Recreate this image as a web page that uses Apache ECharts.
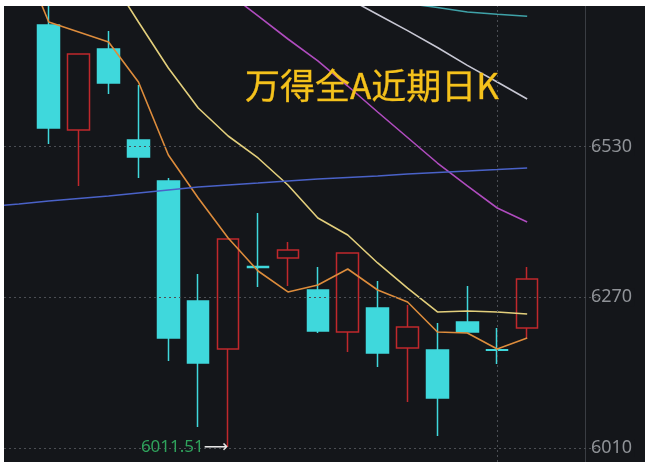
<!DOCTYPE html>
<html><head><meta charset="utf-8">
<script src="https://cdn.jsdelivr.net/npm/echarts@6/dist/echarts.min.js"></script>
<style>
html,body{margin:0;padding:0;background:#fff;width:650px;height:465px;overflow:hidden}
#chart{position:absolute;left:4px;top:6px;width:641px;height:456px;background:#14161a}
</style></head><body><div id="chart"></div>
<script>
const titleText = '万得全A近期日K';
const categories = ['D1','D2','D3','D4','D5','D6','D7','D8','D9','D10','D11','D12','D13','D14','D15','D16','D17','D18','D19','D20','D21'];
const opens  = [null,null,6739.6,6558.5,6698.2,6541.2,6470.5,6263.5,6180.7,6323.0,6337.7,6282.5,6210.1,6251.5,6182.4,6178.9,6227.3,6179.5,6217.1,null,null];
const closes = [null,null,6561.9,6689.5,6639.5,6511.9,6199.7,6156.6,6370.5,6321.5,6351.5,6211.8,6346.3,6173.9,6218.6,6096.1,6210.1,6178.5,6301.5,null,null];
const lows   = [null,null,6534.3,6461.9,6620.5,6475.7,6160.1,6046.2,6011.51,6287.7,6289.4,6208.3,6175.6,6149.7,6089.3,6030.6,6209.0,6154.7,6198.5,null,null];
const highs  = [null,null,6790.0,6689.5,6729.2,6636.1,6475.7,6310.1,6370.5,6415.3,6365.3,6322.2,6346.3,6298.0,6256.6,6225.5,6289.4,6217.1,6322.2,null,null];
const ma5    = [6937.9,6868.9,6744.7,6727.5,6710.2,6641.2,6515.3,6441.2,6372.2,6315.3,6279.1,6291.1,6318.7,6282.5,6261.8,6210.1,6208.3,6180.7,6199.7,null,null];
const ma10   = [7110.4,7041.4,6972.4,6903.4,6825.8,6744.7,6665.4,6596.4,6548.1,6510.2,6463.6,6406.7,6377.4,6329.1,6285.9,6244.6,6246.3,6244.6,6241.1,null,null];
const ma20   = [7106.9,7069.0,7029.3,6989.6,6951.7,6912.0,6872.4,6834.4,6794.8,6755.1,6715.4,6677.5,6634.3,6589.5,6545.5,6501.5,6461.9,6423.9,6399.8,null,null];
const ma30   = [7122,7094,7066,7038,7010,6982,6954,6926,6898,6870,6842,6814,6785.6,6757.7,6729.9,6700.7,6669.9,6641.2,6611.9,null,null];
const ma60   = [6871,6864,6857,6850,6843,6836,6829,6822,6815,6808.5,6801.6,6794.7,6787.8,6781.8,6776.6,6769.7,6762.0,6758.0,6754.7,null,null];
const ma250  = [6426.5,6430.8,6436.0,6440.3,6444.6,6449.8,6455.0,6460.1,6463.6,6467.0,6470.5,6473.9,6476.5,6479.1,6482.5,6485.2,6487.8,6490.3,6492.9,null,null];
const yTicks = [6010, 6270, 6530];
const crossDay = 'D18';

const candleData = categories.map((c, i) => opens[i] == null ? ['-','-','-','-'] : [opens[i], closes[i], lows[i], highs[i]]);
let minIdx = -1, minVal = Infinity;
lows.forEach((v, i) => { if (v != null && v < minVal) { minVal = v; minIdx = i; } });

const bg = '#14161a';
function lineSeries(name, data, color) {
  return { name, type: 'line', data: data.map(v => v == null ? '-' : v), symbol: 'none', smooth: false,
    lineStyle: { color, width: 1.6 }, silent: true, z: 3 };
}

const chart = echarts.init(document.getElementById('chart'), null, { renderer: 'canvas' });
chart.setOption({
  animation: false,
  backgroundColor: 'transparent',
  title: { text: titleText, left: 241, top: 62, padding: 0,
    textStyle: { color: '#f4c21c', fontSize: 35, fontWeight: 'normal', fontFamily: 'Noto Sans CJK SC',
      textBorderColor: '#d99e10', textBorderWidth: 0.4 } },
  grid: { left: -30, top: 0, width: 627.9, height: 456, containLabel: false, outerBoundsMode: 'none' },
  xAxis: { type: 'category', data: categories, show: false, boundaryGap: true },
  yAxis: { type: 'value', position: 'right', min: 5985.85, max: 6772.3, offset: -17, scale: true,
    axisLine: { show: true, lineStyle: { color: '#3a3d43', width: 1 } },
    axisTick: { show: false }, splitLine: { show: false },
    axisLabel: { customValues: yTicks, formatter: v => String(v), color: '#8f9297', fontSize: 18, margin: 6,
      fontFamily: 'Noto Sans', backgroundColor: bg, padding: [0, 2, 0, 0] } },
  series: [
    { type: 'candlestick', data: candleData, barWidth: 22, silent: true, z: 2,
      itemStyle: { color: 'rgba(0,0,0,0)', color0: '#3fd8dc', borderColor: '#c0282c', borderColor0: '#3fd8dc', borderWidth: 1.5 },
      markLine: { silent: true, symbol: ['none', 'none'], label: { show: false },
        lineStyle: { type: [2, 3], color: '#4b4e54', width: 1 },
        data: yTicks.map(v => ({ yAxis: v })).concat([{ xAxis: crossDay }]) },
      markPoint: { silent: true, symbol: 'circle', symbolSize: 0,
        data: [{ coord: [categories[minIdx], minVal] }],
        label: { show: true, position: 'left', distance: 0,
          formatter: '{g|' + minVal.toFixed(2) + '}{a|⟶}',
          rich: { g: { color: '#2fa25c', fontSize: 17, fontFamily: 'Noto Sans' },
                  a: { color: '#e6e6e6', fontSize: 17, fontFamily: 'DejaVu Sans' } } } }
    },
    lineSeries('MA5', ma5, '#dd8c3c'),
    lineSeries('MA10', ma10, '#e3cf7c'),
    lineSeries('MA20', ma20, '#b04cbf'),
    lineSeries('MA30', ma30, '#c8c8d4'),
    lineSeries('MA60', ma60, '#3fa2a8'),
    lineSeries('MA250', ma250, '#4a62c8')
  ]
});
</script></body></html>
